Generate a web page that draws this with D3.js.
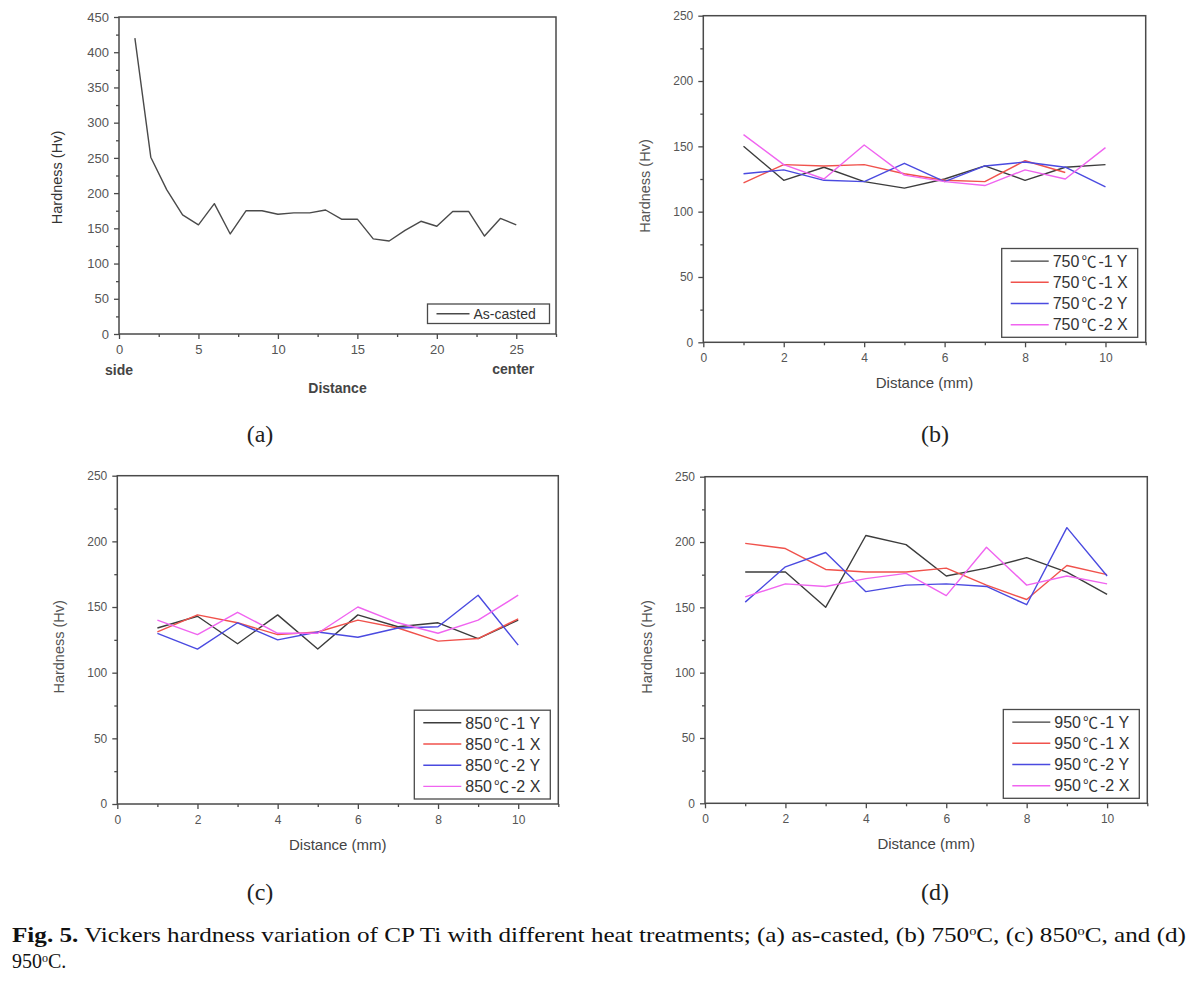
<!DOCTYPE html>
<html>
<head>
<meta charset="utf-8">
<script src="https://cdn.jsdelivr.net/npm/d3@7"></script>
<style>
  body { margin: 0; background: #fff; }
  svg { display: block; }
</style>
</head>
<body>
<div id="fig"></div>
<script>
// distance index (points measured along the sample)
const distA = d3.range(1, 26);
const dist = d3.range(1, 11);

// (a) as-casted
const asCasted = [420, 251, 205, 169, 155, 185, 142, 175, 175, 170, 172, 172, 176,
  163, 163, 135, 132, 147, 160, 153, 174, 174, 139, 164, 155];

// (b) 750C
const h750_1Y = [150, 124, 134, 123, 118, 125, 135, 124, 134, 136];
const h750_1X = [122, 136, 135, 136, 129, 124, 123, 139, 130];
const h750_2Y = [129, 132, 124, 123, 137, 123, 135, 138, 134, 119];
const h750_2X = [159, 136, 125, 151, 128, 123, 120, 132, 125, 149];

// (c) 850C
const h850_1Y = [134, 143, 122, 144, 118, 144, 135, 138, 126, 140];
const h850_1X = [131, 144, 138, 129, 131, 140, 134, 124, 126, 141];
const h850_2Y = [130, 118, 138, 125, 131, 127, 134, 135, 159, 121];
const h850_2X = [140, 129, 146, 130, 130, 150, 138, 130, 140, 159];

// (d) 950C
const h950_1Y = [177, 177, 150, 205, 198, 174, 180, 188, 177, 160];
const h950_1X = [199, 195, 179, 177, 177, 180, 167, 156, 182, 175];
const h950_2Y = [154, 181, 192, 162, 167, 168, 166, 152, 211, 174];
const h950_2X = [158, 168, 166, 172, 176, 159, 196, 167, 174, 168];

const seriesNames = ["-1 Y", "-1 X", "-2 Y", "-2 X"];
const seriesColors = ["#3c3c3c", "#f0524c", "#4a4ae0", "#f064f0"];

const sans = "'Liberation Sans', Arial, sans-serif";

var svg = d3.select("#fig").append("svg")
  .attr("width", 1203)
  .attr("height", 985)
  .style("background", "#fff");

function drawPanel(p) {
  var x = d3.scaleLinear().domain(p.xDomain).range([p.left, p.right]);
  var y = d3.scaleLinear().domain(p.yDomain).range([p.bottom, p.top]);
  var g = svg.append("g");

  // frame
  g.append("rect")
  .attr("x", p.left)
  .attr("y", p.top)
  .attr("width", p.right - p.left)
  .attr("height", p.bottom - p.top)
  .attr("fill", "none")
  .attr("stroke", "#4a4a4a")
  .attr("stroke-width", 1.5);

  // minor ticks
  g.append("g")
  .attr("transform", "translate(0," + p.bottom + ")")
  .call(d3.axisBottom(x).tickValues(p.xMinor).tickSize(3).tickFormat(""));
  g.append("g")
  .attr("transform", "translate(" + p.left + ",0)")
  .call(d3.axisLeft(y).tickValues(p.yMinor).tickSize(3).tickFormat(""));

  // major ticks + labels
  g.append("g")
  .attr("transform", "translate(0," + p.bottom + ")")
  .call(d3.axisBottom(x).tickValues(p.xTicks).tickSize(5).tickPadding(p.xPad));
  g.append("g")
  .attr("transform", "translate(" + p.left + ",0)")
  .call(d3.axisLeft(y).tickValues(p.yTicks).tickSize(5).tickPadding(5));

  g.selectAll(".domain").attr("stroke", "none");
  g.selectAll(".tick line").attr("stroke", "#4a4a4a").attr("stroke-width", 1.3);
  g.selectAll(".tick text")
  .attr("fill", "#555")
  .style("font-family", sans)
  .style("font-size", p.tickFont + "px");

  // lines
  var line = d3.line()
  .x(function(d, i) { return x(p.xs[i]); })
  .y(function(d) { return y(d); });

  p.series.forEach(function(s) {
    g.append("path")
    .datum(s.values)
    .attr("fill", "none")
    .attr("stroke", s.color)
    .attr("stroke-width", 1.4)
    .attr("stroke-linejoin", "round")
    .attr("d", line);
  });

  // legend
  var rowH = p.legendRow;
  var lw = p.legendW, lh = rowH * p.series.length + 4;
  var lx = p.right - p.legendDx - lw, ly = p.bottom - p.legendDy - lh;
  g.append("rect")
  .attr("x", lx)
  .attr("y", ly)
  .attr("width", lw)
  .attr("height", lh)
  .attr("fill", "#fff")
  .attr("stroke", "#4a4a4a")
  .attr("stroke-width", 1.3);

  p.series.forEach(function(s, i) {
    var cy = ly + 2 + rowH * (i + 0.5);
    g.append("line")
    .attr("x1", lx + 9)
    .attr("x2", lx + p.legendLine)
    .attr("y1", cy)
    .attr("y2", cy)
    .attr("stroke", s.color)
    .attr("stroke-width", 1.4);
    var t = g.append("text")
    .attr("x", lx + p.legendLine + 4)
    .attr("y", cy)
    .attr("dy", "0.36em")
    .attr("fill", "#333")
    .style("font-family", sans)
    .style("font-size", p.legendFont + "px");
    if (s.temp) {
      t.append("tspan").text(s.temp);
      t.append("tspan")
      .attr("dx", 2)
      .style("font-family", "'Noto Sans CJK KR', 'Noto Sans CJK SC', sans-serif")
      .style("font-size", (p.legendFont - 1) + "px")
      .text("\u2103");
      t.append("tspan").attr("dx", 2).text(s.name);
    } else {
      t.text(s.name);
    }
  });

  // y axis label
  g.append("text")
  .attr("transform", "translate(" + (p.left - p.yLabelDx) + "," + ((p.top + p.bottom) / 2 + p.yLabelDy) + ") rotate(-90)")
  .attr("text-anchor", "middle")
  .attr("dy", "0.35em")
  .attr("fill", p.yLabelColor)
  .style("font-family", sans)
  .style("font-size", "14.5px")
  .text("Hardness (Hv)");

  // x axis label
  g.append("text")
  .attr("x", (p.left + p.right) / 2)
  .attr("y", p.bottom + p.xLabelDy)
  .attr("text-anchor", "middle")
  .attr("fill", "#444")
  .style("font-family", sans)
  .style("font-size", p.xLabelBold ? "14px" : "15px")
  .style("font-weight", p.xLabelBold ? "bold" : "normal")
  .text(p.xLabel);

  // panel tag
  svg.append("text")
  .attr("x", p.tagX)
  .attr("y", p.tagY)
  .attr("text-anchor", "middle")
  .attr("fill", "#222")
  .style("font-family", "'Liberation Serif', 'Times New Roman', serif")
  .style("font-size", "24px")
  .text(p.tag);

  return {x: x, y: y, g: g};
}

function fourSeries(temp, arrays) {
  return arrays.map(function(v, i) {
    return {temp: temp, name: seriesNames[i], values: v, color: seriesColors[i]};
  });
}

var common = {
  xDomain: [0, 11], yDomain: [0, 250],
  xTicks: [0, 2, 4, 6, 8, 10], xMinor: [1, 3, 5, 7, 9, 11],
  yTicks: [0, 50, 100, 150, 200, 250], yMinor: [25, 75, 125, 175, 225],
  tickFont: 12, xPad: 6, xs: dist,
  legendW: 136, legendRow: 21.2, legendDx: 8, legendDy: 5, legendLine: 47, legendFont: 16,
  yLabelDx: 58, yLabelDy: 7, yLabelColor: "#555", xLabelDy: 46, xLabel: "Distance (mm)", xLabelBold: false
};

// (a)
var pa = drawPanel({
  left: 119, right: 556, top: 17, bottom: 334,
  xDomain: [0, 27.5], yDomain: [0, 450],
  xTicks: [0, 5, 10, 15, 20, 25], xMinor: [2.5, 7.5, 12.5, 17.5, 22.5, 27.5],
  yTicks: d3.range(0, 451, 50), yMinor: d3.range(25, 450, 50),
  tickFont: 13, xPad: 6, xs: distA,
  series: [{name: "As-casted", values: asCasted, color: "#4a4a4a"}],
  legendW: 122, legendRow: 15.5, legendDx: 6.5, legendDy: 10.5, legendLine: 42, legendFont: 14,
  yLabelDx: 62, yLabelDy: 2, yLabelColor: "#333", xLabelDy: 59, xLabel: "Distance", xLabelBold: true,
  tag: "(a)", tagX: 260, tagY: 442
});

// side / center labels under the (a) axis
pa.g.append("text")
.attr("x", pa.x(0) - 14)
.attr("y", 375)
.attr("fill", "#444")
.style("font-family", sans)
.style("font-size", "14px")
.style("font-weight", "bold")
.text("side");
pa.g.append("text")
.attr("x", pa.x(25) - 24)
.attr("y", 374)
.attr("fill", "#444")
.style("font-family", sans)
.style("font-size", "14px")
.style("font-weight", "bold")
.text("center");

// (b)
drawPanel(Object.assign({}, common, {
  left: 703.3, right: 1145.7, top: 15.7, bottom: 342.3,
  series: fourSeries("750", [h750_1Y, h750_1X, h750_2Y, h750_2X]),
  tag: "(b)", tagX: 935, tagY: 442
}));

// (c)
drawPanel(Object.assign({}, common, {
  left: 117.3, right: 558.3, top: 475.7, bottom: 804,
  series: fourSeries("850", [h850_1Y, h850_1X, h850_2Y, h850_2X]),
  tag: "(c)", tagX: 260, tagY: 900
}));

// (d)
drawPanel(Object.assign({}, common, {
  left: 705, right: 1147.3, top: 476.7, bottom: 803.3,
  series: fourSeries("950", [h950_1Y, h950_1X, h950_2Y, h950_2X]),
  tag: "(d)", tagX: 935, tagY: 900
}));

// caption
var serif = "'Liberation Serif', 'Times New Roman', serif";
var cap = svg.append("text")
.attr("x", 12)
.attr("y", 942)
.attr("fill", "#111")
.attr("textLength", 1174)
.attr("lengthAdjust", "spacingAndGlyphs")
.style("font-family", serif)
.style("font-size", "21px");
cap.append("tspan").style("font-weight", "bold").text("Fig. 5.");
cap.append("tspan").text(" Vickers hardness variation of CP Ti with different heat treatments; (a) as-casted, (b) 750");
cap.append("tspan").attr("dy", -7).style("font-size", "12px").text("o");
cap.append("tspan").attr("dy", 7).text("C, (c) 850");
cap.append("tspan").attr("dy", -7).style("font-size", "12px").text("o");
cap.append("tspan").attr("dy", 7).text("C, and (d)");

var cap2 = svg.append("text")
.attr("x", 12)
.attr("y", 968)
.attr("fill", "#111")
.style("font-family", serif)
.style("font-size", "20px");
cap2.append("tspan").text("950");
cap2.append("tspan").attr("dy", -6).style("font-size", "12px").text("o");
cap2.append("tspan").attr("dy", 6).text("C.");
</script>
</body>
</html>
